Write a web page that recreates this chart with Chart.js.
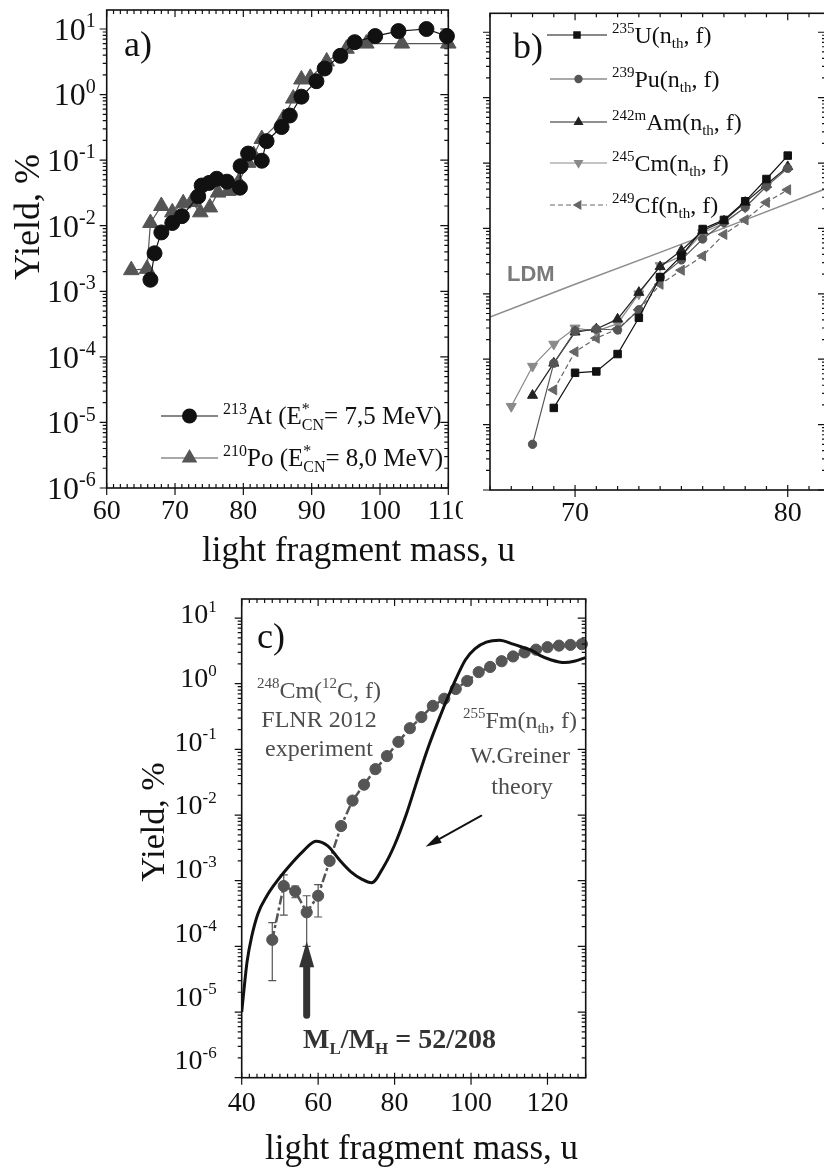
<!DOCTYPE html>
<html>
<head>
<meta charset="utf-8">
<script src="https://cdn.jsdelivr.net/npm/chart.js@4.4.0/dist/chart.umd.min.js"></script>
<style>
  html, body { margin: 0; padding: 0; background: #fff; width: 824px; height: 1167px; overflow: hidden; }
  canvas { position: absolute; }
  #ca { left: 0; top: 0; }
  #cb { left: 463px; top: 0; background: #fff; }
  #cc { left: 120px; top: 560px; }
</style>
</head>
<body>
<canvas id="ca" width="824" height="600"></canvas>
<canvas id="cb" width="380" height="532"></canvas>
<canvas id="cc" width="520" height="607"></canvas>
<script>
// panel a) 213At and 210Po
const atMass  = [66.4, 67.0, 68.0, 69.6, 71.0, 73.4, 73.9, 75.0, 76.1, 77.6, 79.5, 79.6, 80.7, 82.7, 83.4, 85.6, 86.8, 88.5, 90.7, 91.9, 94.2, 96.3, 99.3, 102.7, 106.8, 109.8];
const atYield = [0.0015, 0.0038, 0.0079, 0.011, 0.014, 0.028, 0.041, 0.045, 0.052, 0.047, 0.038, 0.081, 0.126, 0.098, 0.195, 0.32, 0.48, 0.93, 1.6, 2.5, 3.9, 6.3, 7.8, 9.3, 10, 7.8];
const poMass  = [63.6, 65.9, 66.4, 68.0, 69.6, 71.2, 72.4, 73.7, 75.1, 76.3, 77.8, 79.3, 80.7, 81.5, 82.7, 85.9, 87.3, 88.5, 89.8, 92.2, 95.1, 98.0, 103.2, 110];
const poYield = [0.0021, 0.0022, 0.011, 0.020, 0.016, 0.022, 0.023, 0.016, 0.019, 0.032, 0.034, 0.046, 0.091, 0.12, 0.21, 0.44, 0.87, 1.7, 1.8, 3.2, 5.0, 6.0, 6.0, 6.0];

// panel b) thermal neutron fission
const uMass   = [69, 70, 71, 72, 73, 74, 75, 76, 77, 78, 79, 80];
const uYield  = [1.8e-5, 6.2e-5, 6.5e-5, 1.2e-4, 4.3e-4, 1.8e-3, 3.8e-3, 9.8e-3, 0.0135, 0.026, 0.057, 0.13];
const puMass  = [68, 69, 70, 71, 72, 73, 74, 75, 76, 77, 78, 79, 80];
const puYield = [5.0e-6, 8.7e-5, 2.7e-4, 2.9e-4, 2.8e-4, 5.7e-4, 1.8e-3, 3.3e-3, 6.9e-3, 0.0123, 0.021, 0.044, 0.083];
const amMass  = [68, 69, 70, 71, 72, 73, 74, 75, 76, 77, 78, 79, 80];
const amYield = [2.8e-5, 8.7e-5, 2.6e-4, 2.9e-4, 4.1e-4, 1.05e-3, 2.6e-3, 4.6e-3, 9.2e-3, 0.013, 0.025, 0.047, 0.088];
const cmMass  = [67, 68, 69, 70, 71, 72, 73, 74, 75, 76, 77, 78, 79];
const cmYield = [1.9e-5, 7.8e-5, 1.7e-4, 3.0e-4, 2.7e-4, 3.5e-4, 1.0e-3, 2.7e-3, 3.8e-3, 8.6e-3, 0.012, 0.021, 0.044];
const cfMass  = [69, 70, 71, 72, 73, 74, 75, 76, 77, 78, 79, 80];
const cfYield = [3.4e-5, 1.3e-4, 2.1e-4, 2.9e-4, 5.7e-4, 1.4e-3, 2.3e-3, 3.8e-3, 8.1e-3, 0.0135, 0.025, 0.039];
const ldmMass  = [66, 70, 74, 78, 82];
const ldmYield = [4.4e-4, 1.4e-3, 4.3e-3, 0.0135, 0.043];

// panel c) 248Cm(12C,f) experiment and 255Fm theory
const cMass  = [48, 51, 54, 57, 60, 63, 66, 69, 72, 75, 78, 81, 84, 87, 90, 93, 96, 99, 102, 105, 108, 111, 114, 117, 120, 123, 126, 129];
const cYield = [1.26e-4, 8.3e-4, 6.9e-4, 3.3e-4, 5.9e-4, 2.0e-3, 6.8e-3, 0.0166, 0.029, 0.05, 0.079, 0.13, 0.21, 0.31, 0.46, 0.59, 0.83, 1.1, 1.5, 1.8, 2.2, 2.6, 3.0, 3.3, 3.6, 3.8, 3.9, 4.0];
const cErrMass = [48, 51, 54, 57, 60];
const cErrLow  = [3.0e-5, 3.0e-4, 5.5e-4, 1.0e-4, 2.8e-4];
const cErrHigh = [2.3e-4, 1.23e-3, 8.3e-4, 5.9e-4, 8.7e-4];
const thMass  = [40, 40.6, 41.4, 42.6, 44.3, 46.6, 48.9, 52.4, 55.9, 59.4, 62.5, 65.5, 68.5, 71.5, 74, 77, 80, 83, 85.8, 88.6, 92, 95.5, 98.5, 101, 104, 107.5, 111, 114, 116, 118, 121, 124.5, 127, 130];
const thYield = [1.0e-5, 2.2e-5, 5.8e-5, 1.4e-4, 3.2e-4, 5.9e-4, 9.3e-4, 1.66e-3, 2.75e-3, 4.0e-3, 3.4e-3, 2.1e-3, 1.38e-3, 1.05e-3, 9.3e-4, 1.58e-3, 3.5e-3, 0.010, 0.032, 0.10, 0.33, 1.0, 2.3, 3.4, 4.3, 4.6, 4.0, 3.5, 3.2, 2.7, 2.3, 2.1, 2.2, 2.5];
const fmArrow = [[102.7, 9.8e-3], [88.1, 3.3e-3]];
const massArrow = [[57, 8.9e-6], [57, 1.2e-4]];

// ticks
const aXTicks = [60, 70, 80, 90, 100, 110];
const bXTicks = [70, 80];
const cXTicks = [40, 60, 80, 100, 120];
const yExps = [1, 0, -1, -2, -3, -4, -5, -6];

const serif = '"Liberation Serif", "Times New Roman", serif';
const pts = (xs, ys) => xs.map((x, i) => ({ x: x, y: ys[i] }));

// text with superscripts / subscripts; parts = [[text, 'n'|'p'|'b'|'pb'], ...]
function drawRich(ctx, x, y, parts, size, opt) {
    opt = opt || {};
    const wt = opt.weight || 'normal';
    const big = wt + ' ' + size + 'px ' + serif;
    const sm = wt + ' ' + Math.round(size * 0.62) + 'px ' + serif;
    const widths = parts.map(([t, k]) => {
        if (k === 'n') { ctx.font = big; return ctx.measureText(t).width; }
        ctx.font = sm;
        if (k === 'pb') return Math.max(ctx.measureText(t[0]).width, ctx.measureText(t[1]).width);
        return ctx.measureText(t).width;
    });
    const total = widths.reduce((s, w) => s + w, 0);
    let cx = x;
    if (opt.align === 'center') cx -= total / 2;
    if (opt.align === 'right') cx -= total;
    ctx.fillStyle = opt.color || '#111';
    ctx.textAlign = 'left';
    ctx.textBaseline = 'alphabetic';
    parts.forEach(([t, k], i) => {
        if (k === 'n') { ctx.font = big; ctx.fillText(t, cx, y); }
        else {
            ctx.font = sm;
            if (k === 'p') ctx.fillText(t, cx, y - size * 0.4);
            else if (k === 'b') ctx.fillText(t, cx, y + size * 0.22);
            else { ctx.fillText(t[0], cx, y - size * 0.42); ctx.fillText(t[1], cx, y + size * 0.22); }
        }
        cx += widths[i];
    });
}

function marker(ctx, style, x, y, r, rot, color) {
    ctx.save();
    ctx.fillStyle = color;
    ctx.beginPath();
    if (style === 'circle') ctx.arc(x, y, r, 0, Math.PI * 2);
    else if (style === 'rect') { const s = r * Math.SQRT1_2; ctx.rect(x - s, y - s, 2 * s, 2 * s); }
    else {
        let a = (rot || 0) * Math.PI / 180;
        ctx.moveTo(x + Math.sin(a) * r, y - Math.cos(a) * r);
        a += 2 * Math.PI / 3;
        ctx.lineTo(x + Math.sin(a) * r, y - Math.cos(a) * r);
        a += 2 * Math.PI / 3;
        ctx.lineTo(x + Math.sin(a) * r, y - Math.cos(a) * r);
        ctx.closePath();
    }
    ctx.fill();
    ctx.restore();
}

function legendRow(ctx, x0, x1, y, ds, parts, size) {
    ctx.save();
    ctx.strokeStyle = ds.borderColor;
    ctx.lineWidth = ds.borderWidth;
    ctx.setLineDash(ds.borderDash || []);
    ctx.beginPath(); ctx.moveTo(x0, y); ctx.lineTo(x1, y); ctx.stroke();
    ctx.restore();
    marker(ctx, ds.pointStyle, (x0 + x1) / 2, y, ds.pointRadius, ds.pointRotation, ds.pointBackgroundColor);
    drawRich(ctx, x1 + 5, y + size * 0.33, parts, size);
}

function arrow(ctx, p0, p1, w, headL, headW, color) {
    const ang = Math.atan2(p1[1] - p0[1], p1[0] - p0[0]);
    const bx = p1[0] - Math.cos(ang) * headL, by = p1[1] - Math.sin(ang) * headL;
    ctx.save();
    ctx.strokeStyle = color; ctx.fillStyle = color;
    ctx.lineWidth = w; ctx.lineCap = 'round';
    ctx.beginPath(); ctx.moveTo(p0[0], p0[1]); ctx.lineTo(bx, by); ctx.stroke();
    ctx.beginPath();
    ctx.moveTo(p1[0], p1[1]);
    ctx.lineTo(bx + Math.sin(ang) * headW / 2, by - Math.cos(ang) * headW / 2);
    ctx.lineTo(bx - Math.sin(ang) * headW / 2, by + Math.cos(ang) * headW / 2);
    ctx.closePath(); ctx.fill();
    ctx.restore();
}

// frame, Origin-like ticks and labels
function drawAxes(chart, cfg) {
    const ctx = chart.ctx, a = chart.chartArea;
    const x = chart.scales.x, y = chart.scales.y;
    ctx.save();
    ctx.strokeStyle = '#111';
    ctx.lineWidth = 1.6;
    ctx.strokeRect(a.left, a.top, a.right - a.left, a.bottom - a.top);
    ctx.lineWidth = 1.2;
    ctx.beginPath();
    for (let v = cfg.xFrom; v <= x.max + 1e-6; v += cfg.xStep) {
        const px = x.getPixelForValue(v);
        if (cfg.xTicks.includes(v)) {
            ctx.moveTo(px, a.bottom + 7); ctx.lineTo(px, a.bottom - 5);
            ctx.moveTo(px, a.top); ctx.lineTo(px, a.top + 7);
        } else {
            ctx.moveTo(px, a.bottom); ctx.lineTo(px, a.bottom - 4);
            ctx.moveTo(px, a.top); ctx.lineTo(px, a.top + 4);
        }
    }
    for (let e = -6; e <= 1; e++) {
        for (let m = 1; m < 10; m++) {
            const v = m * Math.pow(10, e);
            if (v > y.max) break;
            const py = y.getPixelForValue(v);
            const len = m === 1 ? 7 : 4;
            ctx.moveTo(a.left - len, py); ctx.lineTo(a.left, py);
            ctx.moveTo(a.right, py); ctx.lineTo(a.right - (m === 1 ? 8 : 4), py);
        }
    }
    ctx.stroke();

    ctx.fillStyle = '#111';
    ctx.font = '28px ' + serif;
    ctx.textAlign = 'center';
    ctx.textBaseline = 'middle';
    cfg.xTicks.forEach(v => ctx.fillText(String(v), x.getPixelForValue(v), a.bottom + cfg.xGap));

    if (cfg.yLabels) {
        yExps.forEach(e => {
            const py = y.getPixelForValue(Math.pow(10, e)) - cfg.yShift(e);
            drawRich(ctx, a.left - cfg.yGap, py + cfg.ySize * 0.34, [['10', 'n'], [String(e), 'p']], cfg.ySize, { align: 'right' });
        });
    }
    if (cfg.yTitle) {
        ctx.save();
        ctx.translate(cfg.yTitle[0], cfg.yTitle[1]);
        ctx.rotate(-Math.PI / 2);
        ctx.fillStyle = '#111';
        ctx.font = cfg.yTitle[2] + 'px ' + serif;
        ctx.textAlign = 'center';
        ctx.textBaseline = 'middle';
        ctx.fillText('Yield, %', 0, 0);
        ctx.restore();
    }
    ctx.restore();
}

function baseOptions(pad, xMin, xMax) {
    return {
        responsive: false,
        animation: false,
        devicePixelRatio: 1,
        layout: { padding: pad },
        plugins: { legend: { display: false }, tooltip: { enabled: false } },
        scales: {
            x: { type: 'linear', min: xMin, max: xMax, display: false },
            y: { type: 'logarithmic', min: 1e-6, max: 19.5, display: false }
        }
    };
}

function series(xs, ys, color, style, r, extra) {
    return Object.assign({
        data: pts(xs, ys),
        borderColor: color,
        borderWidth: 1.2,
        pointStyle: style,
        pointRadius: r,
        pointBackgroundColor: color,
        pointBorderColor: color,
        pointBorderWidth: 1,
        tension: 0,
        clip: false
    }, extra || {});
}

// ---------- a)
const aSets = [
    series(atMass, atYield, '#111', 'circle', 7.5),
    series(poMass, poYield, '#555', 'triangle', 9)
];
new Chart(document.getElementById('ca'), {
    type: 'line',
    data: { datasets: aSets },
    options: baseOptions({ left: 106.7, top: 6.7, right: 375.7, bottom: 112 }, 60, 110),
    plugins: [{
        id: 'axesA',
        afterDraw(chart) {
            const ctx = chart.ctx;
            drawAxes(chart, {
                xFrom: 60, xStep: 1, xTicks: aXTicks, xGap: 24,
                yLabels: true, yGap: 11, ySize: 32, yShift: () => 0,
                yTitle: [30, 217, 36]
            });
            ctx.save();
            ctx.fillStyle = '#111';
            ctx.font = '36px ' + serif;
            ctx.textAlign = 'left';
            ctx.textBaseline = 'alphabetic';
            ctx.fillText('a)', 124, 56);
            ctx.font = '35px ' + serif;
            ctx.textBaseline = 'middle';
            ctx.fillText('light fragment mass, u', 202, 552);
            ctx.restore();
            legendRow(ctx, 161, 218, 416, aSets[0],
                [['213', 'p'], ['At (E', 'n'], [['*', 'CN'], 'pb'], ['= 7,5 MeV)', 'n']], 25);
            legendRow(ctx, 161, 218, 458, aSets[1],
                [['210', 'p'], ['Po (E', 'n'], [['*', 'CN'], 'pb'], ['= 8,0 MeV)', 'n']], 25);
        }
    }]
});

// ---------- b)
const bSets = [
    series(uMass, uYield, '#111', 'rect', 5.3),
    series(puMass, puYield, '#555', 'circle', 4.2),
    series(amMass, amYield, '#222', 'triangle', 5.8),
    series(cmMass, cmYield, '#8a8a8a', 'triangle', 5.8, { pointRotation: 180 }),
    series(cfMass, cfYield, '#666', 'triangle', 5.8, { pointRotation: -90, borderDash: [5, 3] }),
    { data: pts(ldmMass, ldmYield), borderColor: '#8c8c8c', borderWidth: 1.5, pointRadius: 0, tension: 0 }
];
new Chart(document.getElementById('cb'), {
    type: 'line',
    data: { datasets: bSets },
    options: baseOptions({ left: 27, top: 13.3, right: 17, bottom: 42 }, 66, 81.8),
    plugins: [{
        id: 'axesB',
        afterDraw(chart) {
            const ctx = chart.ctx;
            drawAxes(chart, { xFrom: 66, xStep: 1, xTicks: bXTicks, xGap: 24, yLabels: false });
            ctx.save();
            ctx.fillStyle = '#111';
            ctx.font = '36px ' + serif;
            ctx.textAlign = 'left';
            ctx.textBaseline = 'alphabetic';
            ctx.fillText('b)', 50, 58);
            ctx.fillStyle = '#7a7a7a';
            ctx.font = 'bold 22px "Liberation Sans", Arial, sans-serif';
            ctx.fillText('LDM', 44, 281);
            ctx.restore();
            const names = ['235', '239', '242m', '245', '249'];
            const elems = ['U(n', 'Pu(n', 'Am(n', 'Cm(n', 'Cf(n'];
            const rows = [35, 79, 122, 163, 205];
            rows.forEach((ry, i) => {
                legendRow(ctx, i === 0 ? 84 : 87, 144, ry, bSets[i],
                    [[names[i], 'p'], [elems[i], 'n'], ['th', 'b'], [', f)', 'n']], 24);
            });
        }
    }]
});

// ---------- c)
const cSets = [
    { data: pts(thMass, thYield), borderColor: '#111', borderWidth: 3, pointRadius: 0, cubicInterpolationMode: 'monotone' },
    series(cMass, cYield, '#555', 'circle', 5.6, { borderWidth: 2.5, borderDash: [9, 3, 3, 3] })
];
new Chart(document.getElementById('cc'), {
    type: 'line',
    data: { datasets: cSets },
    options: baseOptions({ left: 121.7, top: 39, right: 54.3, bottom: 89.3 }, 40, 130),
    plugins: [{
        id: 'errorBars',
        beforeDatasetsDraw(chart) {
            const ctx = chart.ctx, x = chart.scales.x, y = chart.scales.y;
            ctx.save();
            ctx.strokeStyle = '#555';
            ctx.lineWidth = 1.2;
            ctx.beginPath();
            cErrMass.forEach((m, i) => {
                const px = x.getPixelForValue(m);
                const lo = y.getPixelForValue(cErrLow[i]), hi = y.getPixelForValue(cErrHigh[i]);
                ctx.moveTo(px, lo); ctx.lineTo(px, hi);
                ctx.moveTo(px - 4, lo); ctx.lineTo(px + 4, lo);
                ctx.moveTo(px - 4, hi); ctx.lineTo(px + 4, hi);
            });
            ctx.stroke();
            ctx.restore();
        }
    }, {
        id: 'axesC',
        afterDraw(chart) {
            const ctx = chart.ctx, x = chart.scales.x, y = chart.scales.y;
            drawAxes(chart, {
                xFrom: 40, xStep: 2, xTicks: cXTicks, xGap: 26,
                yLabels: true, yGap: 25, ySize: 28, yShift: e => 4.5 + (1 - e) * 1.9,
                yTitle: [35, 262, 34]
            });
            const px = p => [x.getPixelForValue(p[0]), y.getPixelForValue(p[1])];
            arrow(ctx, px(fmArrow[0]), px(fmArrow[1]), 1.8, 16, 9, '#111');
            arrow(ctx, px(massArrow[0]), px(massArrow[1]), 7, 26, 15, '#333');

            ctx.save();
            ctx.fillStyle = '#111';
            ctx.font = '36px ' + serif;
            ctx.textAlign = 'left';
            ctx.textBaseline = 'alphabetic';
            ctx.fillText('c)', 137, 88);
            ctx.font = '35px ' + serif;
            ctx.textBaseline = 'middle';
            ctx.fillText('light fragment mass, u', 145, 590);
            ctx.restore();

            const g = { color: '#4d4d4d', align: 'center' };
            drawRich(ctx, 199, 138, [['248', 'p'], ['Cm(', 'n'], ['12', 'p'], ['C, f)', 'n']], 24, g);
            drawRich(ctx, 199, 167, [['FLNR 2012', 'n']], 24, g);
            drawRich(ctx, 199, 196, [['experiment', 'n']], 24, g);
            drawRich(ctx, 400, 168, [['255', 'p'], ['Fm(n', 'n'], ['th', 'b'], [', f)', 'n']], 24, g);
            drawRich(ctx, 400, 203, [['W.Greiner', 'n']], 24, g);
            drawRich(ctx, 402, 234, [['theory', 'n']], 24, g);
            drawRich(ctx, 183, 488, [['M', 'n'], ['L', 'b'], ['/M', 'n'], ['H', 'b'], [' = 52/208', 'n']], 28,
                { color: '#333', weight: 'bold' });
        }
    }]
});
</script>
</body>
</html>
